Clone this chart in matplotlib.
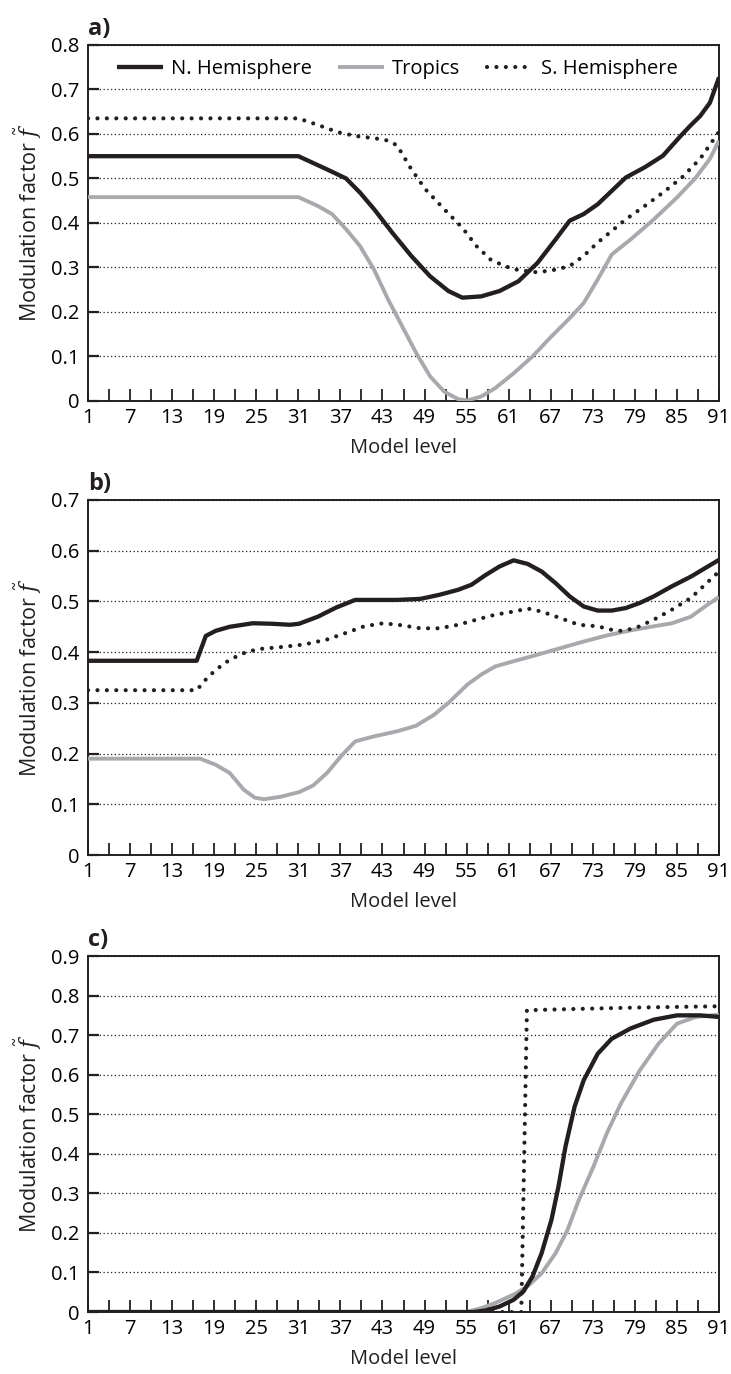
#!/usr/bin/env python3
"""Modulation factor per model level, three panels (a, b, c)."""

import matplotlib
matplotlib.use('Agg')
import matplotlib.pyplot as plt

plt.rcParams['font.family'] = ['Open Sans', 'DejaVu Sans']
plt.rcParams['mathtext.fontset'] = 'dejavuserif'

# Panel a
a_n_lev = [1, 31, 35, 37.8, 39.8, 41.8, 44.4, 47.1, 49.8, 52.4, 54.4, 57.1, 59.7, 62.4,
           65.1, 67.7, 69.7, 71.7, 73.7, 75.7, 77.7, 80.4, 83, 85.5, 87, 88.3, 89.7, 91]
a_n_val = [0.55, 0.55, 0.521, 0.50, 0.468, 0.431, 0.378, 0.326, 0.28, 0.247, 0.232, 0.235,
           0.247, 0.269, 0.31, 0.363, 0.405, 0.42, 0.442, 0.472, 0.502, 0.525, 0.551, 0.595,
           0.62, 0.64, 0.67, 0.727]
a_t_lev = [1, 31, 33.8, 35.8, 37.8, 39.8, 41.8, 43.8, 45.8, 47.8, 49.8, 51.8, 53.8, 55.1,
           57.1, 59.1, 61.7, 64.4, 67.1, 69.7, 71.7, 73.7, 75.7, 78.4, 81.7, 85, 87.7, 89.7, 91]
a_t_val = [0.458, 0.458, 0.438, 0.42, 0.386, 0.348, 0.295, 0.228, 0.168, 0.108, 0.055, 0.021,
           0.004, 0.001, 0.01, 0.029, 0.062, 0.1, 0.145, 0.186, 0.22, 0.273, 0.329, 0.363,
           0.408, 0.457, 0.502, 0.544, 0.585]
a_s_lev = [1, 31, 34, 36.6, 39.3, 42, 43.8, 45.1, 47.1, 49.1, 51.8, 54.4, 56.4, 58.4, 60.4,
           62.4, 65.1, 67.7, 69.7, 71.7, 73.7, 75.7, 77.7, 80.4, 83, 85.7, 88.3, 91]
a_s_val = [0.635, 0.635, 0.619, 0.604, 0.595, 0.59, 0.585, 0.574, 0.521, 0.476, 0.431, 0.389,
           0.348, 0.318, 0.303, 0.294, 0.289, 0.295, 0.303, 0.326, 0.356, 0.382, 0.408, 0.438,
           0.468, 0.502, 0.544, 0.605]

# Panel b
b_n_lev = [1, 16.5, 17.8, 19.2, 21.2, 24.5, 27.2, 29.8, 31.1, 33.8, 36.4, 39.1, 41.8, 45.1,
           48.4, 51.1, 53.8, 55.7, 57.7, 59.7, 61.7, 63.7, 65.7, 67.7, 69.7, 71.7, 73.7, 75.7,
           77.7, 79.7, 81.7, 84.3, 87, 91]
b_n_val = [0.383, 0.383, 0.432, 0.442, 0.450, 0.457, 0.456, 0.454, 0.456, 0.470, 0.488, 0.503,
           0.503, 0.503, 0.505, 0.513, 0.523, 0.533, 0.552, 0.569, 0.581, 0.574, 0.559, 0.536,
           0.51, 0.49, 0.482, 0.482, 0.487, 0.497, 0.51, 0.53, 0.549, 0.582]
b_t_lev = [1, 17, 19.2, 21.2, 23.2, 24.8, 26.1, 28.5, 31.1, 33.1, 35.1, 37.1, 39.1, 41.8, 45.1,
           47.8, 50.4, 52.4, 55.1, 57.1, 59.1, 61.7, 65.1, 68.4, 71.7, 75, 78.4, 81.7, 84.3,
           87, 89, 91]
b_t_val = [0.19, 0.19, 0.178, 0.162, 0.129, 0.113, 0.11, 0.115, 0.124, 0.137, 0.162, 0.195,
           0.224, 0.234, 0.244, 0.255, 0.277, 0.3, 0.336, 0.356, 0.372, 0.382, 0.395, 0.408,
           0.421, 0.433, 0.443, 0.451, 0.457, 0.47, 0.49, 0.509]
b_s_lev = [1, 16.5, 17.8, 19.2, 21.2, 23.2, 25.2, 28.5, 31.8, 35.1, 37.8, 40.4, 43.1, 45.8,
           48.4, 51.1, 53.8, 56.4, 59.1, 61.7, 63.7, 65.7, 68.4, 71, 73.7, 75.7, 77, 79, 81.7,
           84.3, 87, 91]
b_s_val = [0.325, 0.325, 0.346, 0.365, 0.385, 0.398, 0.406, 0.41, 0.415, 0.425, 0.438, 0.451,
           0.457, 0.453, 0.447, 0.447, 0.454, 0.464, 0.474, 0.48, 0.486, 0.48, 0.467, 0.454,
           0.451, 0.444, 0.442, 0.447, 0.464, 0.484, 0.507, 0.559]

# Panel c
c_n_lev = [1, 56, 57.7, 59.7, 61.7, 63.1, 64.4, 65.7, 67.1, 68.1, 69.1, 70.4, 71.7, 73.7,
           75.7, 78.4, 81.7, 85, 88.3, 91]
c_n_val = [0, 0, 0.004, 0.014, 0.031, 0.052, 0.09, 0.149, 0.233, 0.317, 0.418, 0.519, 0.586,
           0.653, 0.691, 0.717, 0.739, 0.75, 0.75, 0.746]
c_t_lev = [1, 55, 57.1, 59.1, 61.7, 63.7, 65.7, 67.7, 69.4, 71, 73.1, 75, 77, 79.7, 82.4,
           85, 87.7, 91]
c_t_val = [0, 0, 0.01, 0.023, 0.044, 0.065, 0.098, 0.149, 0.208, 0.283, 0.368, 0.452, 0.527,
           0.611, 0.679, 0.729, 0.746, 0.752]
c_s_lev = [1, 62.8, 63.6, 70, 80, 91]
c_s_val = [0, 0, 0.763, 0.766, 0.77, 0.773]

series_names = ['N. Hemisphere', 'Tropics', 'S. Hemisphere']
panel_labels = ['a)', 'b)', 'c)']
y_tops = [0.8, 0.7, 0.9]
x_major = list(range(1, 92, 6))
x_minor = list(range(4, 92, 6))

INK = '#231f20'
GRAY = '#a7a9ac'
FS = 14.5


def draw_panel(ax, data, ytop, label, legend=False):
    (n_lev, n_val), (t_lev, t_val), (s_lev, s_val) = data
    ax.plot(t_lev, t_val, color=GRAY, lw=2.8, solid_capstyle='butt', label=series_names[1], zorder=3)
    ax.plot(n_lev, n_val, color=INK, lw=3.1, solid_capstyle='butt', label=series_names[0], zorder=4)
    ax.plot(s_lev, s_val, color=INK, lw=3.0, linestyle=(0, (0.01, 2.25)),
            dash_capstyle='round', label=series_names[2], zorder=5)

    nt = int(round(ytop * 10)) + 1
    ax.set_xlim(1, 91)
    ax.set_ylim(0, ytop)
    ax.set_xticks(x_major)
    ax.set_xticks(x_minor, minor=True)
    ax.set_yticks([round(0.1 * i, 1) for i in range(nt)])
    ax.set_yticklabels(['0' if i == 0 else f'{0.1 * i:.1f}' for i in range(nt)])

    ax.tick_params(axis='x', which='both', direction='in', length=9, width=1.3,
                   color=INK, labelsize=FS, pad=5, top=False)
    ax.tick_params(axis='y', direction='in', length=8, width=1.6, color=INK,
                   labelsize=FS, pad=6, right=False)
    ax.yaxis.grid(True, linestyle=(0, (1, 2)), linewidth=0.9, color=INK)
    ax.set_axisbelow(True)
    for sp in ax.spines.values():
        sp.set_color(INK)
        sp.set_linewidth(1.4)

    ax.set_xlabel('Model level', fontsize=FS, color=INK, labelpad=7)
    ax.set_ylabel(r'Modulation factor $\tilde{f}$', fontsize=15.5, color=INK, labelpad=5)
    ax.text(0.0, 1.012, label, transform=ax.transAxes, ha='left', va='bottom',
            fontsize=17, fontweight='bold', color=INK)

    if legend:
        handles, labels = ax.get_legend_handles_labels()
        order = [1, 0, 2]
        ax.legend([handles[i] for i in order], [labels[i] for i in order],
                  loc='center', bbox_to_anchor=(0.49, 0.9325), ncol=3, frameon=False,
                  fontsize=FS, handlelength=2.3, handletextpad=0.4, columnspacing=1.3)


fig = plt.figure(figsize=(7.31, 13.74), dpi=100)
rects = [
    [0.1204, 0.7082, 0.8632, 0.2591],
    [0.1204, 0.3777, 0.8632, 0.2584],
    [0.1204, 0.0451, 0.8632, 0.2591],
]
datasets = [
    ((a_n_lev, a_n_val), (a_t_lev, a_t_val), (a_s_lev, a_s_val)),
    ((b_n_lev, b_n_val), (b_t_lev, b_t_val), (b_s_lev, b_s_val)),
    ((c_n_lev, c_n_val), (c_t_lev, c_t_val), (c_s_lev, c_s_val)),
]

for i, rect in enumerate(rects):
    ax = fig.add_axes(rect)
    draw_panel(ax, datasets[i], y_tops[i], panel_labels[i], legend=(i == 0))

fig.savefig('out.png', dpi=100, facecolor='white')
